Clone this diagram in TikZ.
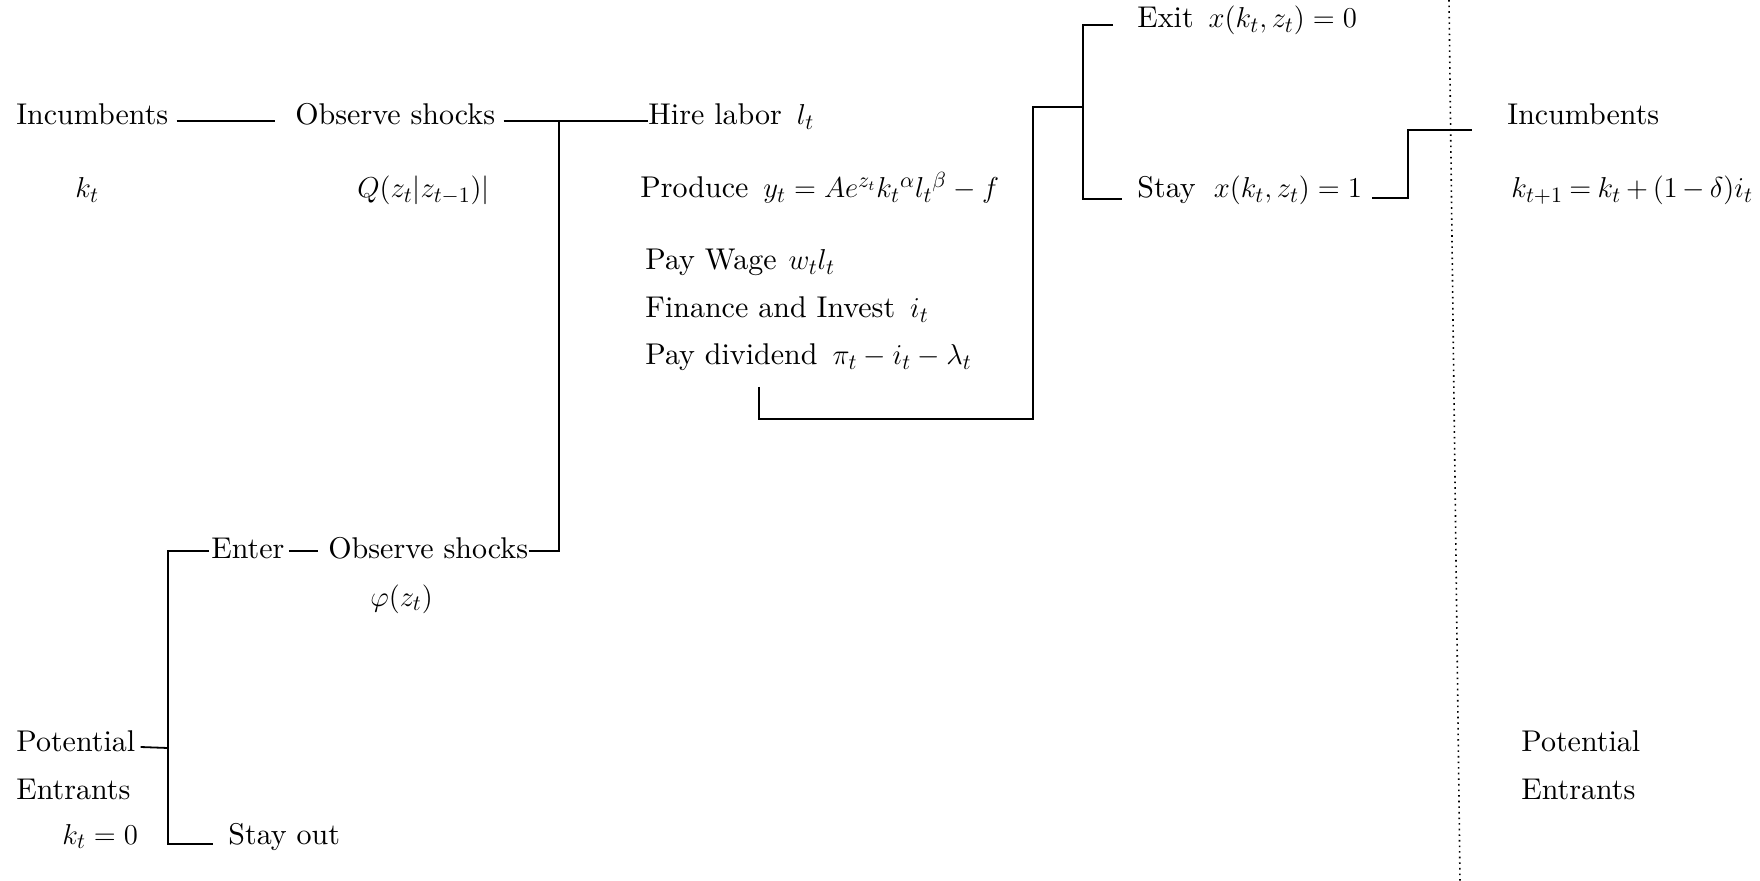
\documentclass[tikz,border=0pt]{standalone}
\usepackage{fontspec}
\setmainfont{lmroman10-regular}[Extension=.otf]
\usetikzlibrary{calc}
\begin{document}
\begin{tikzpicture}[x=0.5pt,y=-0.5pt]
\tikzset{
  lbl/.style={anchor=base west, inner sep=0pt, font=\fontsize{15}{18}\selectfont},
  conn/.style={line width=0.9pt},
  sep/.style={line width=0.8pt, dotted}
}
\useasboundingbox (0,0) rectangle (1760,881);
% text nodes
\node[lbl] (inc)  at (16,125)  {Incumbents};
\node[lbl] (kt)   at (75,198)  {$k_t$};
\node[lbl] (obs1) at (295,125) {Observe shocks};
\node[lbl] (Q)    at (357,198) {$Q(z_t\big|z_{t-1})\big|$};
\node[lbl] (hire) at (648,125) {Hire labor\hspace{0.5em}$l_t$};
\node[lbl] (prod) at (640,198) {Produce\hspace{0.5em}$y_t = Ae^{z_t}k_t{}^{\alpha}l_t{}^{\beta} - f$};
\node[lbl] (wage) at (645,270) {Pay Wage\hspace{0.4em}$w_t l_t$};
\node[lbl] (fin)  at (645,318) {Finance and Invest\hspace{0.5em}$i_t$};
\node[lbl] (div)  at (645,365) {Pay dividend\hspace{0.5em}$\pi_t - i_t - \lambda_t$};
\node[lbl] (exit) at (1137,28) {Exit\hspace{0.5em}$x(k_t, z_t) = 0$};
\node[lbl] (stay) at (1137,198) {Stay\hspace{0.6em}$x(k_t, z_t) = 1$};
\node[lbl] (inc2) at (1507,125) {Incumbents};
\node[lbl] (knext) at (1511,198) {\medmuskip=3mu\thickmuskip=4mu$k_{t+1} = k_t + (1-\delta)i_t$};
\node[lbl] (enter) at (211,559) {Enter};
\node[lbl] (obs2) at (328,559) {Observe shocks};
\node[lbl] (phi)  at (370,606) {$\varphi(z_t)$};
\node[lbl] (pot)  at (16,751)  {Potential};
\node[lbl] (ent)  at (16,799)  {Entrants};
\node[lbl] (k0)   at (62,844)  {$k_t = 0$};
\node[lbl] (out)  at (228,844) {Stay out};
\node[lbl] (pot2) at (1521,751) {Potential};
\node[lbl] (ent2) at (1521,799) {Entrants};
% junction coordinates
\coordinate (jObs) at (559,121);
\coordinate (jEnt) at (168,551);
\coordinate (jPot) at (168,748);
\coordinate (jOut) at (168,844);
\coordinate (jBoxL) at (759,419);
\coordinate (jBoxR) at (1033,419);
\coordinate (jBoxT) at (1033,107);
\coordinate (jForkM) at (1083,107);
\coordinate (jForkT) at (1083,25);
\coordinate (jForkB) at (1083,199);
\coordinate (jStayL) at (1372,198);
\coordinate (jStayR) at (1408,198);
\coordinate (jNextL) at (1408,130);
\coordinate (jNextR) at (1472,130);
\coordinate (dTop) at (1449,0);
\coordinate (dBot) at (1460,881);
% connectors
\draw[conn] ($(inc.base east)+(8,-4)$) -- ($(obs1.base west)+(-20,-4)$);
\draw[conn] ($(obs1.base east)+(8,-4)$) -- ($(hire.base west)+(0,-4)$);
\draw[conn] ($(obs2.base east)+(0,-8)$) -| (jObs);
\draw[conn] ($(enter.base west)+(-2,-8)$) -- (jEnt) -- (jOut) -- ($(out.base west)+(-15,0)$);
\draw[conn] ($(pot.base east)+(5,-4)$) -- (jPot);
\draw[conn] ($(enter.base east)+(4,-8)$) -- ($(obs2.base west)+(-10,-8)$);
\draw[conn] ($(div.base west)+(114,22)$) -- (jBoxL) -- (jBoxR) -- (jBoxT) -- (jForkM);
\draw[conn] ($(exit.base west)+(-24,-3)$) -- (jForkT) -- (jForkB) -- ($(stay.base west)+(-15,1)$);
\draw[conn] (jStayL) -- (jStayR) -- (jNextL) -- (jNextR);
\draw[sep] (dTop) -- (dBot);
\end{tikzpicture}
\end{document}
